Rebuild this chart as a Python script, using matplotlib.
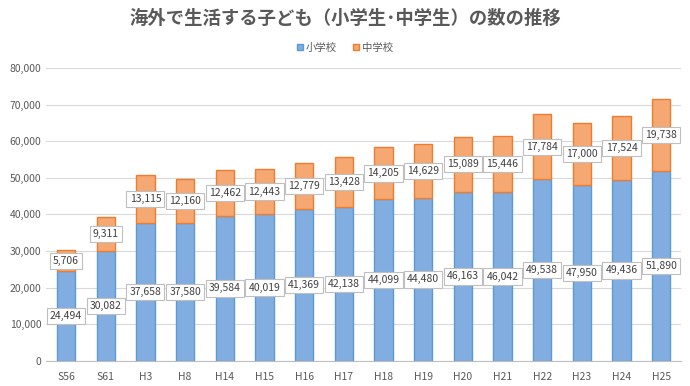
import matplotlib.pyplot as plt
import numpy as np

plt.rcParams['font.family'] = ['Noto Sans CJK JP', 'DejaVu Sans']

years = ['S56', 'S61', 'H3', 'H8', 'H14', 'H15', 'H16', 'H17', 'H18', 'H19',
         'H20', 'H21', 'H22', 'H23', 'H24', 'H25']
elementary = [24494, 30082, 37658, 37580, 39584, 40019, 41369, 42138, 44099, 44480,
              46163, 46042, 49538, 47950, 49436, 51890]
junior = [5706, 9311, 13115, 12160, 12462, 12443, 12779, 13428, 14205, 14629,
          15089, 15446, 17784, 17000, 17524, 19738]

fig = plt.figure(figsize=(6.9, 3.86), dpi=100)
ax = fig.add_axes([0.067, 0.065, 0.92, 0.759])

x = np.arange(len(years))
w = 0.46
ax.bar(x, elementary, w, color='#82ade0', edgecolor='#5b9bd5', linewidth=1.0,
       label='小学校', zorder=2)
ax.bar(x, junior, w, bottom=elementary, color='#f5a871', edgecolor='#ed7d31',
       linewidth=1.0, label='中学校', zorder=2)

# value labels in white boxes, centred in each segment
box = dict(boxstyle='square,pad=0.3', fc='white', ec='#bfbfbf', lw=0.8)
for i in range(len(years)):
    ax.text(x[i], elementary[i] / 2, f'{elementary[i]:,}', ha='center', va='center',
            fontsize=7.5, color='#404040', bbox=box, zorder=3)
    ax.text(x[i], elementary[i] + junior[i] / 2, f'{junior[i]:,}', ha='center',
            va='center', fontsize=7.5, color='#404040', bbox=box, zorder=3)

ax.set_xlim(-0.5, len(years) - 0.5)
ax.set_ylim(0, 80000)
ax.set_yticks(range(0, 80001, 10000))
ax.set_yticklabels([f'{v:,}' for v in range(0, 80001, 10000)])
ax.set_xticks(x)
ax.set_xticklabels(years)
ax.tick_params(axis='both', length=0, labelsize=7.5, colors='#595959')
ax.tick_params(axis='x', pad=8)
ax.grid(axis='y', color='#d9d9d9', linewidth=0.8, zorder=0)
for s in ['top', 'right', 'left']:
    ax.spines[s].set_visible(False)
ax.spines['bottom'].set_color('#bfbfbf')

fig.text(0.5, 0.952, '海外で生活する子ども（小学生･中学生）の数の推移', ha='center', va='center',
         fontsize=13.2, fontweight='bold', color='#595959')
fig.legend(loc='center', bbox_to_anchor=(0.5, 0.877), ncol=2, frameon=False,
           fontsize=7.5, handlelength=0.6, handleheight=0.6, columnspacing=1.5,
           handletextpad=0.3, labelcolor='#595959')

fig.savefig('out.png', dpi=100)
